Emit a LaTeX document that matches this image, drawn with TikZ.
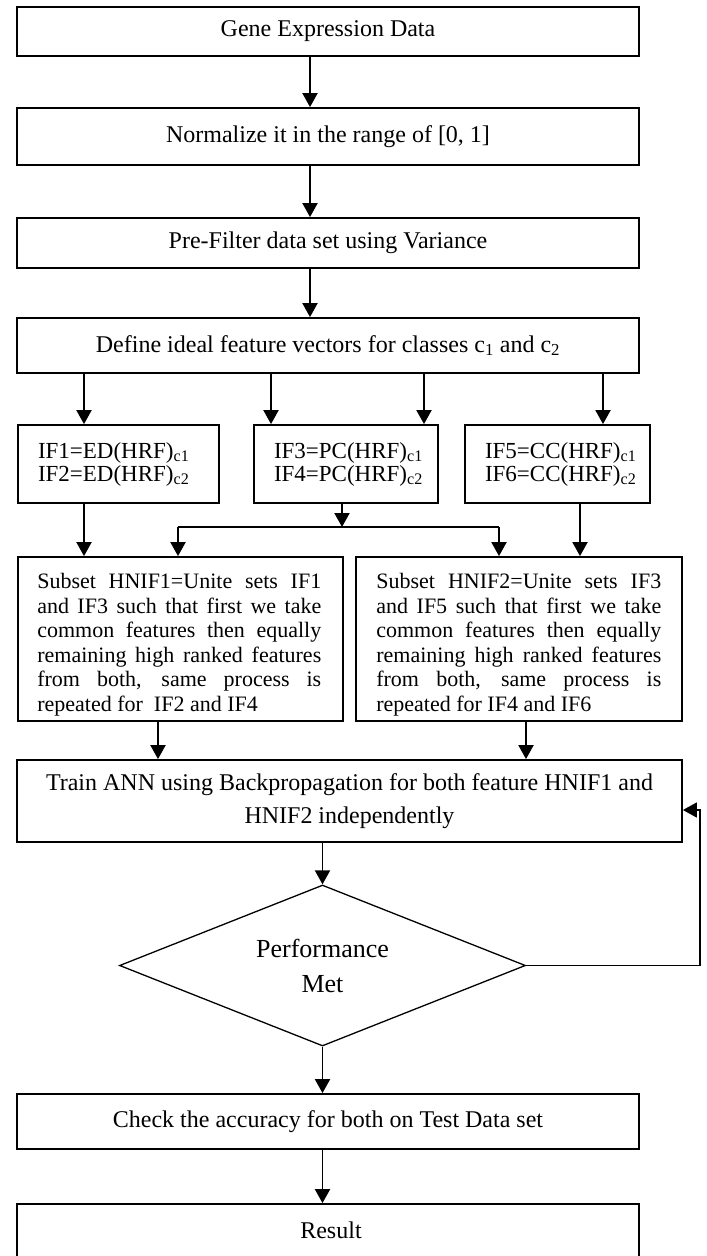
\documentclass[tikz,border=0pt]{standalone}
\usepackage{fontspec}
\setmainfont{Liberation Serif}
\usetikzlibrary{arrows.meta,shapes.geometric}
\begin{document}
\begin{tikzpicture}[x=1pt,y=-1pt,
  box/.style={draw, line width=1.8pt, rectangle, inner sep=0pt, align=center,
    font=\fontsize{24}{33}\selectfont},
  ifbox/.style={draw, line width=1.8pt, rectangle, inner ysep=0pt, inner xsep=20pt,
    align=left, font=\fontsize{23}{23}\selectfont},
  subtext/.style={inner sep=0pt, align=left, anchor=north west,
    font=\fontsize{22}{24.5}\selectfont},
  arr/.style={line width=1.9pt, -{Triangle[length=14pt,width=15pt]}},
  ln/.style={line width=1.9pt}]
\useasboundingbox (0,0) rectangle (707,1256);

% main boxes
\node[box, minimum width=622pt, minimum height=49pt] (b1) at (328,31.5) {Gene Expression Data};
\node[box, minimum width=622pt, minimum height=57pt] (b2) at (328,136.5) {Normalize it in the range of [0, 1]};
\node[box, minimum width=622pt, minimum height=50pt] (b3) at (328,243) {Pre-Filter data set using Variance};
\node[box, minimum width=622pt, minimum height=55pt] (b4) at (328,345.5)
  {Define ideal feature vectors for classes c\textsubscript{1} and c\textsubscript{2}};

% IF boxes
\node[ifbox, minimum width=201pt, minimum height=78pt, text width=161pt] (if1) at (118.5,464)
  {IF1=ED(HRF)\textsubscript{c1}\\IF2=ED(HRF)\textsubscript{c2}};
\node[ifbox, minimum width=184pt, minimum height=78pt, text width=144pt] (if2) at (346,464)
  {IF3=PC(HRF)\textsubscript{c1}\\IF4=PC(HRF)\textsubscript{c2}};
\node[ifbox, minimum width=185pt, minimum height=78pt, text width=145pt] (if3) at (557.5,464)
  {IF5=CC(HRF)\textsubscript{c1}\\IF6=CC(HRF)\textsubscript{c2}};

% subset boxes
\node[box, minimum width=325pt, minimum height=164pt] (s1) at (180.5,639) {};
\node[box, minimum width=326pt, minimum height=164pt] (s2) at (519,639) {};
\node[subtext] (s1t) at ([xshift=20pt,yshift=-17pt]s1.north west)
  {\makebox[284pt][s]{Subset HNIF1=Unite sets IF1}\\
   \makebox[284pt][s]{and IF3 such that first we take}\\
   \makebox[284pt][s]{common features then equally}\\
   \makebox[284pt][s]{remaining high ranked features}\\
   \makebox[284pt][s]{from both, same process is}\\
   repeated for\ \ IF2 and IF4};
\node[subtext] (s2t) at ([xshift=21pt,yshift=-17pt]s2.north west)
  {\makebox[285pt][s]{Subset HNIF2=Unite sets IF3}\\
   \makebox[285pt][s]{and IF5 such that first we take}\\
   \makebox[285pt][s]{common features then equally}\\
   \makebox[285pt][s]{remaining high ranked features}\\
   \makebox[285pt][s]{from both, same process is}\\
   repeated for IF4 and IF6};

% train
\node[box, minimum width=665pt, minimum height=82pt] (train) at (349.5,801)
  {Train ANN using Backpropagation for both feature HNIF1 and\\HNIF2 independently};

% decision
\node[draw, shape=diamond, line width=1.3pt, aspect=2.5, inner sep=0pt,
  minimum width=406pt, minimum height=161pt, align=center,
  font=\fontsize{26}{35}\selectfont] (dia) at (322.5,965.5) {Performance\\Met};

% check and result
\node[box, minimum width=622pt, minimum height=55pt] (check) at (328,1121.5)
  {Check the accuracy for both on Test Data set};
\node[box, minimum width=622pt, minimum height=58pt] (res) at (328,1233) {};
\node[font=\fontsize{24}{28}\selectfont, inner sep=0pt] (rest) at (331,1230) {Result};

% column coordinates
\coordinate (cm) at (310,0);
\coordinate (c1) at (84,0);
\coordinate (c2) at (271,0);
\coordinate (c3) at (424,0);
\coordinate (c4) at (603,0);
\coordinate (j) at (342,527);
\coordinate (jl) at (178,527);
\coordinate (jr) at (499,527);
\coordinate (c5) at (580,0);
\coordinate (c6) at (158,0);
\coordinate (c7) at (526,0);
\coordinate (fb) at (700,810);

% connectors
\draw[arr] (b1.south -| cm) -- (b2.north -| cm);
\draw[arr] (b2.south -| cm) -- (b3.north -| cm);
\draw[arr] (b3.south -| cm) -- (b4.north -| cm);
\draw[arr] (b4.south -| c1) -- (if1.north -| c1);
\draw[arr] (b4.south -| c2) -- (if2.north -| c2);
\draw[arr] (b4.south -| c3) -- (if2.north -| c3);
\draw[arr] (b4.south -| c4) -- (if3.north -| c4);
\draw[arr] (if1.south -| c1) -- (s1.north -| c1);
\draw[arr] (if2.south -| j) -- (j);
\draw[ln] (jl) -- (jr);
\draw[arr] (jl) -- (jl |- s1.north);
\draw[arr] (jr) -- (jr |- s2.north);
\draw[arr] (if3.south -| c5) -- (s2.north -| c5);
\draw[arr] (s1.south -| c6) -- (train.north -| c6);
\draw[arr] (s2.south -| c7) -- (train.north -| c7);
\draw[arr] (train.south -| dia.north) -- (dia.north);
\draw[arr] (dia.south) -- (dia.south |- check.north);
\draw[arr] (check.south -| dia.south) -- (res.north -| dia.south);
\draw[line width=1.6pt, -{Triangle[length=14pt,width=15pt]}] (dia.east) -| (fb) -- (fb -| train.east);
\end{tikzpicture}
\end{document}
